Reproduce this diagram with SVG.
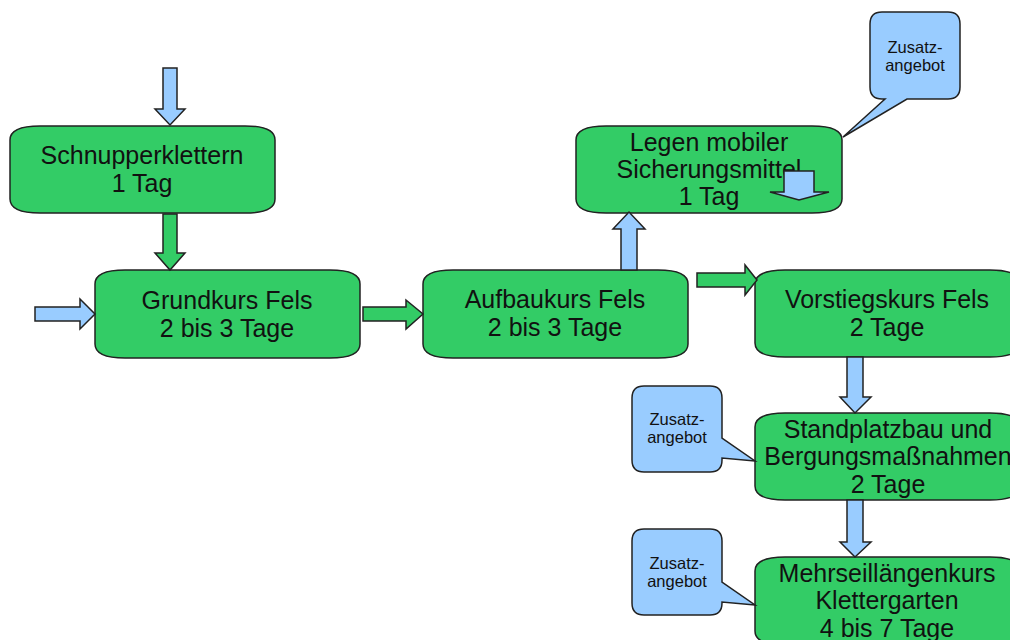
<svg xmlns="http://www.w3.org/2000/svg" width="1010" height="640" viewBox="0 0 1010 640">
<style>
.box{fill:#33cc66;stroke:#222;stroke-width:1.5}
.blue{fill:#99ccff;stroke:#222;stroke-width:1.5}
.green{fill:#33cc66;stroke:#222;stroke-width:1.5}
.t{font-family:"Liberation Sans",Arial,sans-serif;font-size:25px;fill:#111;text-anchor:middle}
.s{font-family:"Liberation Sans",Arial,sans-serif;font-size:16.5px;fill:#111;text-anchor:middle}
</style>
<rect width="1010" height="640" fill="#fff"/>
<g id="n-schnupper">
<path class="box" d="M10,140 C10,130 20,126 40,126 H245 C265,126 275,130 275,140 V199 C275,209 265,213 245,213 H40 C20,213 10,209 10,199 Z"/>
<text class="t" x="142" y="164">Schnupperklettern</text>
<text class="t" x="142" y="192">1 Tag</text>
</g>
<g id="n-grundkurs">
<path class="box" d="M95,284 C95,274 105,270 125,270 H330 C350,270 360,274 360,284 V344 C360,354 350,358 330,358 H125 C105,358 95,354 95,344 Z"/>
<text class="t" x="227" y="309">Grundkurs Fels</text>
<text class="t" x="227" y="337">2 bis 3 Tage</text>
</g>
<g id="n-aufbau">
<path class="box" d="M423,284 C423,274 433,270 453,270 H658 C678,270 688,274 688,284 V344 C688,354 678,358 658,358 H453 C433,358 423,354 423,344 Z"/>
<text class="t" x="555" y="308">Aufbaukurs Fels</text>
<text class="t" x="555" y="336">2 bis 3 Tage</text>
</g>
<g id="n-legen">
<path class="box" d="M576,140 C576,130 586,126 606,126 H812 C832,126 842,130 842,140 V199 C842,209 832,213 812,213 H606 C586,213 576,209 576,199 Z"/>
<text class="t" x="709" y="151">Legen mobiler</text>
<text class="t" x="709" y="178">Sicherungsmittel</text>
<text class="t" x="709" y="205">1 Tag</text>
</g>
<g id="n-vorstieg">
<path class="box" d="M755,284 C755,274 765,270 785,270 H990 C1010,270 1020,274 1020,284 V343 C1020,353 1010,357 990,357 H785 C765,357 755,353 755,343 Z"/>
<text class="t" x="887" y="308">Vorstiegskurs Fels</text>
<text class="t" x="887" y="336">2 Tage</text>
</g>
<g id="n-standplatz">
<path class="box" d="M755,427 C755,417 765,413 785,413 H990 C1010,413 1020,417 1020,427 V486 C1020,496 1010,500 990,500 H785 C765,500 755,496 755,486 Z"/>
<text class="t" x="888" y="438">Standplatzbau und</text>
<text class="t" x="888" y="465">Bergungsmaßnahmen</text>
<text class="t" x="888" y="493">2 Tage</text>
</g>
<g id="n-mehrseil">
<path class="box" d="M755,571 C755,561 765,557 785,557 H990 C1010,557 1020,561 1020,571 V631 C1020,641 1010,645 990,645 H785 C765,645 755,641 755,631 Z"/>
<text class="t" x="887" y="582">Mehrseillängenkurs</text>
<text class="t" x="887" y="609">Klettergarten</text>
<text class="t" x="887" y="637">4 bis 7 Tage</text>
</g>
<g id="c-zusatz1">
<path class="blue" d="M882,12 H948 Q960,12 960,24 V87 Q960,99 948,99 H907 L843,137 L885,99 H882 Q870,99 870,87 V24 Q870,12 882,12 Z"/>
<text class="s" x="915" y="53">Zusatz-</text>
<text class="s" x="915" y="71">angebot</text>
</g>
<g id="c-zusatz2">
<path class="blue" d="M644,386 H710 Q722,386 722,398 V438 L755,461 L722,458 V460 Q722,472 710,472 H644 Q632,472 632,460 V398 Q632,386 644,386 Z"/>
<text class="s" x="677" y="425">Zusatz-</text>
<text class="s" x="677" y="443">angebot</text>
</g>
<g id="c-zusatz3">
<path class="blue" d="M644,529 H710 Q722,529 722,541 V582 L755,605 L722,602 V603 Q722,615 710,615 H644 Q632,615 632,603 V541 Q632,529 644,529 Z"/>
<text class="s" x="677" y="569">Zusatz-</text>
<text class="s" x="677" y="587">angebot</text>
</g>
<g id="connectors">
<polygon class="blue" points="163,68 177,68 177,109 185,109 170,125 155,109 163,109"/>
<polygon class="green" points="163,214 177,214 177,253 185,253 170,270 155,253 163,253"/>
<polygon class="blue" points="35,307 80,307 80,299 95,314 80,329 80,321 35,321"/>
<polygon class="green" points="363,307 406,307 406,300 423,314 406,329 406,321 363,321"/>
<polygon class="blue" points="621,270 621,229 613,229 629,212 645,229 637,229 637,270"/>
<polygon class="green" points="697,273 745,273 745,265 757,280 745,295 745,287 697,287"/>
<polygon class="blue" points="784,171 814,171 814,192 829,192 799,200 770,192 784,192"/>
<polygon class="blue" points="847,357 863,357 863,397 871,397 855,413 840,397 847,397"/>
<polygon class="blue" points="847,500 863,500 863,542 871,542 855,557 840,542 847,542"/>
</g>
</svg>
